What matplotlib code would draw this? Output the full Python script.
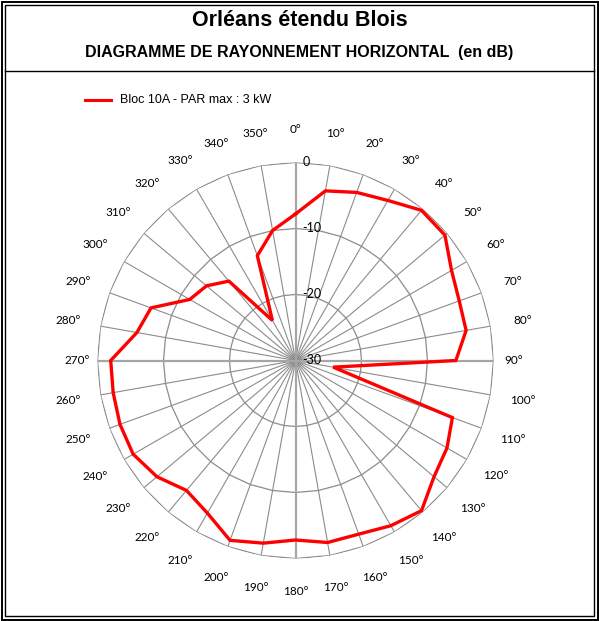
import numpy as np
import matplotlib
matplotlib.use('Agg')
import matplotlib.pyplot as plt
from matplotlib.patches import Rectangle
from matplotlib.lines import Line2D

# values (dB, one per 10 degrees)
angles_deg = list(range(0, 360, 10))
level_db = [-7.8, -3.9, -2.9, -2.0, -0.3, -0.45, -2.7, -3.6, -3.75, -5.7,
            -24.2, -4.7, -3.5, -2.6, -0.3, -1.1, -2.0, -2.0, -2.8, -1.9,
            -1.0, -3.3, -4.3, -2.6, -1.6, -1.7, -1.95, -2.0, -5.6, -6.7,
            -11.5, -12.4, -14.3, -23.0, -13.1, -10.0]
ring_levels = [-20, -10, 0]
ring_labels = ['-30', '-20', '-10', '0']
title = 'Orléans étendu Blois'
subtitle = 'DIAGRAMME DE RAYONNEMENT HORIZONTAL  (en dB)'
series_name = 'Bloc 10A - PAR max : 3 kW'

W, H = 599, 621
fig = plt.figure(figsize=(W / 100, H / 100), dpi=100)

# frame: double border + line under titles
for inset, lw in ((1.5, 1.4), (5, 1.0)):
    fig.add_artist(Rectangle((inset / W, inset / H), 1 - 2 * inset / W, 1 - 2 * inset / H,
                             transform=fig.transFigure, fill=False, ec='black', lw=lw))
fig.add_artist(Line2D([5 / W, 1 - 5 / W], [1 - 71 / H, 1 - 71 / H],
                      transform=fig.transFigure, color='black', lw=1.0))

fig.text(0.5, 1 - 21 / H, title, ha='center', va='center', fontsize=15.5,
         fontweight='bold', family='Liberation Sans')
fig.text(0.5, 1 - 52 / H, subtitle, ha='center', va='center', fontsize=11.5,
         fontweight='bold', family='Liberation Sans')

# legend
fig.add_artist(Line2D([85 / W, 111 / W], [1 - 100 / H, 1 - 100 / H],
                      transform=fig.transFigure, color='red', lw=2.2))
fig.text(120 / W, 1 - 100 / H, series_name, ha='left', va='center', fontsize=9,
         family='Liberation Sans')

# polar axes: centre (295.5, 360.5) px, radius 198 px
cx, cy, R = 295.5, 360.5, 198
ax = fig.add_axes([(cx - R) / W, (H - cy - R) / H, 2 * R / W, 2 * R / H], projection='polar')
ax.set_theta_zero_location('N')
ax.set_theta_direction(-1)
ax.set_ylim(-30, 0)
ax.grid(False)
ax.set_xticks([])
ax.set_yticks([])
ax.spines['polar'].set_visible(False)
ax.patch.set_visible(False)

th = np.deg2rad(angles_deg)

# spokes
for a, t in zip(angles_deg, th):
    if a % 90 == 0:
        ax.plot([t, t], [-30, 0], color='#a6a6a6', lw=1.6, zorder=2)
    else:
        ax.plot([t, t], [-30, 0], color='#8c8c8c', lw=0.8, zorder=1)

# polygonal rings
th_closed = np.append(th, th[0])
for lev in ring_levels:
    ax.plot(th_closed, [lev] * len(th_closed), color='#8c8c8c', lw=0.9, zorder=1)

# series
vals = np.append(level_db, level_db[0])
ax.plot(th_closed, vals, color='red', lw=2.4, zorder=5, solid_joinstyle='miter')

# radial labels
for i, lab in enumerate(ring_labels):
    lev = -30 + 10 * i
    ax.annotate(lab, xy=(0, lev), xytext=(5, 0), textcoords='offset points',
                ha='left', va='center', fontsize=9, family='Lato', zorder=6)

# angle labels
px_per_db = R / 30
for a, t in zip(angles_deg, th):
    dist = 218 if a in (90, 270) else 231
    ax.text(t, -30 + dist / px_per_db, f'{a}°', ha='center', va='center',
            fontsize=8.5, family='Lato', clip_on=False)

fig.savefig('out.png', dpi=100)
